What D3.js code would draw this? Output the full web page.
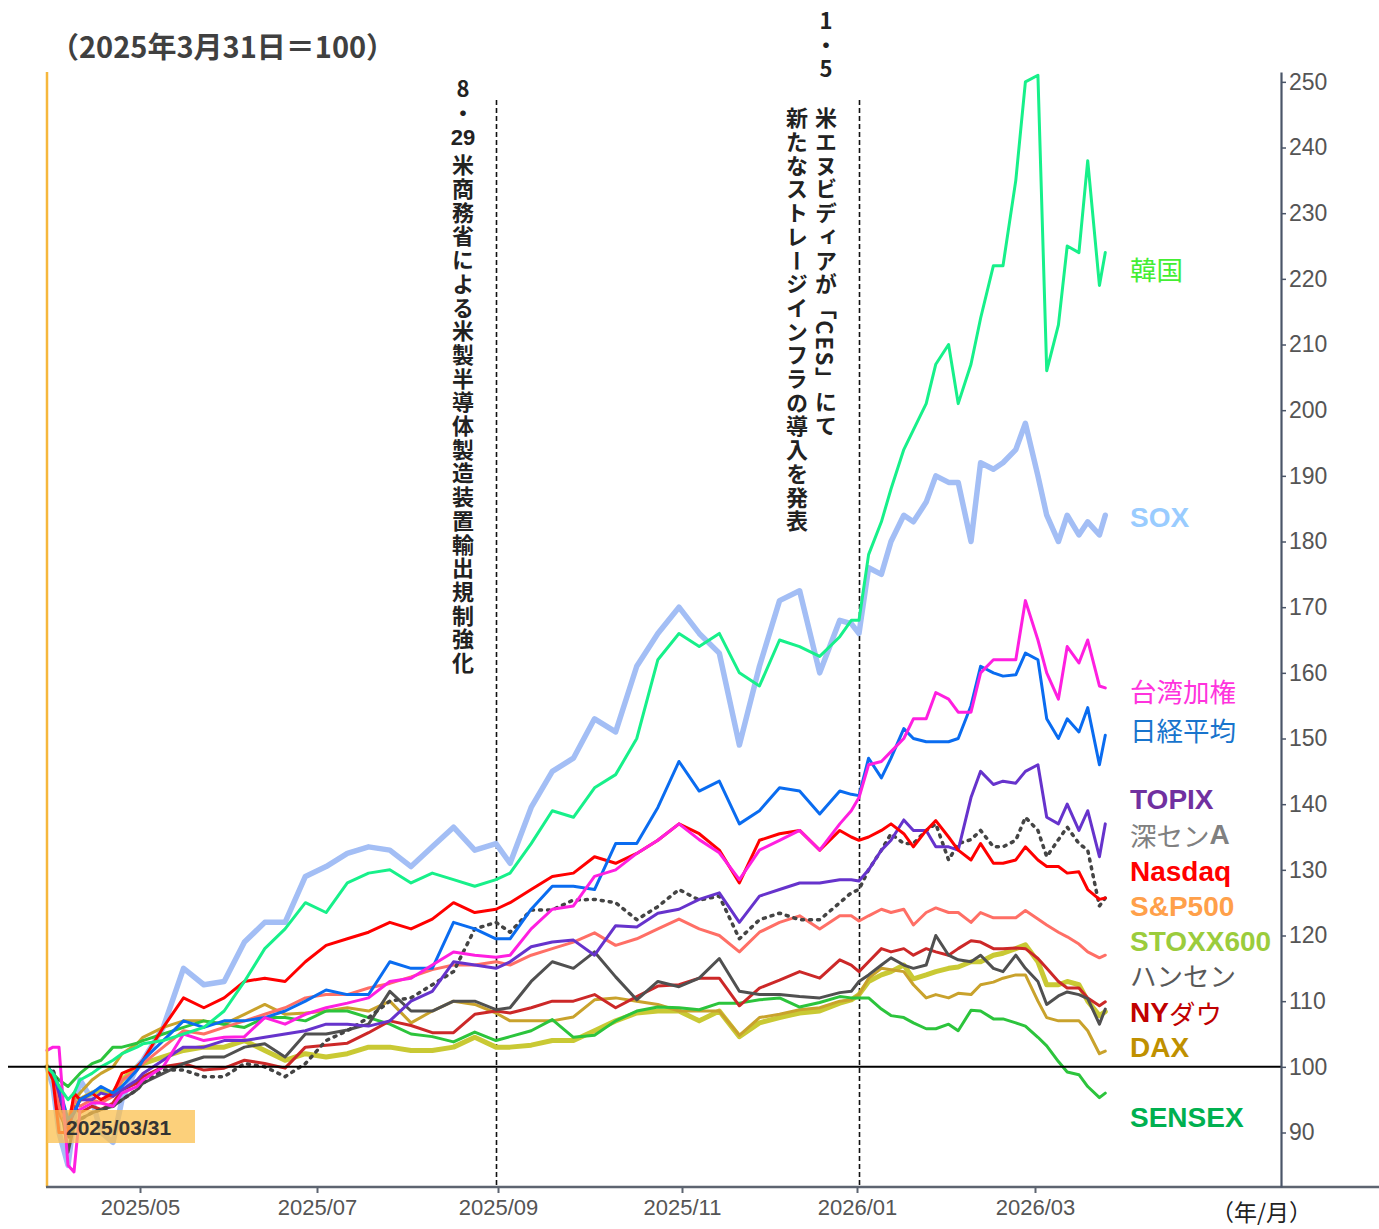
<!DOCTYPE html>
<html><head><meta charset="utf-8">
<script src="https://cdn.jsdelivr.net/npm/d3@7"></script>
<style>body{margin:0;background:#fff}svg{display:block}</style>
</head><body>
<svg id="chart" width="1379" height="1229"></svg>
<script>
// ---------------- DATA ----------------
const dates = ["2025-03-31","2025-04-02","2025-04-04","2025-04-07","2025-04-09","2025-04-11","2025-04-15","2025-04-18","2025-04-22","2025-04-25","2025-04-30",
"2025-05-02","2025-05-09","2025-05-16","2025-05-23","2025-05-30","2025-06-06","2025-06-13","2025-06-20","2025-06-27",
"2025-07-04","2025-07-11","2025-07-18","2025-07-25","2025-08-01","2025-08-08","2025-08-15","2025-08-22","2025-08-29",
"2025-09-05","2025-09-12","2025-09-19","2025-09-26","2025-10-03","2025-10-10","2025-10-17","2025-10-24","2025-10-31",
"2025-11-07","2025-11-14","2025-11-21","2025-11-28","2025-12-05","2025-12-12","2025-12-19","2025-12-26","2025-12-30",
"2026-01-05","2026-01-08","2026-01-12","2026-01-15","2026-01-19","2026-01-22","2026-01-26","2026-01-29",
"2026-02-02","2026-02-05","2026-02-09","2026-02-12","2026-02-16","2026-02-19","2026-02-23","2026-02-26",
"2026-03-02","2026-03-05","2026-03-09","2026-03-12","2026-03-16","2026-03-19","2026-03-23","2026-03-25"];

const korea = [100,99,97,95,96,98,99,100,101,102,103, 103.5,104,105,106,108.5,113,118,121,125, 123.5,128,129.5,130,128,129.5,128.5,127.5,128.5, 129.5,134,139,138,142.5,144.5,150,162,166, 164,166,160,158,165,164,162.5,165.5,168, 168,178,183,188,194,197,201,207, 210,201,207,214,222,222,235,250, 251,206,213,225,224,238,219,224];
const sox = [100,97,90,85,92,98,95,90,88.5,95,100, 101,106,115,112.5,113,119,122,122,129, 130.5,132.5,133.5,133,130.5,133.5,136.5,133,134, 131,139.5,145,147,153,151,161,166,170, 166,163,149,161,171,172.5,160,168,167.5, 166,176,175,180,184,183,186,190, 189,189,180,192,191,192,194,198, 190,184,180,184,181,183,181,184];
const taiwan = [102.5,103,103,85,84,93.5,94.5,94.5,94,96,97, 98,100,105,104,104.5,104.6,107.5,106.5,108, 109,109.7,110.5,113,113.5,115.5,117.5,117,116.7, 117,121,124,124.5,129,130,132.5,134.5,137, 134.6,132.6,128.5,133,134.5,136,133,137,139, 141,146,146.5,148,150,153,153,157, 156,154,154,160,162,162,162,171, 165,160,156,164,161.5,165,158,157.7];
const nikkei = [100,99,97,92,93,95,96,97,96,97,99.5, 101,104,107,106,107,107,107.5,108.5,110, 111.7,111,111,116,115,115,122,121,119.5, 119.5,124,127.5,127.5,127,134,134,139.5,146.5, 142,143.5,137,139,142.5,142,138.5,142,141.5, 141.3,147,144,147,151.5,150,149.5,149.5, 149.5,150,155,161,160,159.5,159.7,163, 162,153,150,153,151,154.7,146,150.5];
const topix = [100,99,96,91,93,95,95,96,95.5,96.5,98, 99,101,103,103,104,104,104.5,105,105.5, 106.5,106.5,106.2,107,110,111.5,116,115.5,115, 116,118.3,119,119.3,117,121.5,121.3,123.4,124, 125.5,126.5,122,126,127,128,128,128.5,128.5, 128.3,130,133,134.5,137.6,136,136,133.5, 133.5,133,141,145,143,143.5,143.2,145, 146,138,137,140,136,139,132,137];
const shenzhen = [100,99.5,97,89,91,92,93,93.5,94,95,96.5, 97.5,99.5,99.5,98.5,98.5,100.5,100,98.5,100.5, 104,105.5,107.5,110,110.5,112.5,114.5,121,122, 120.5,123.9,123.9,125.4,125.5,125,122.4,124.4,127, 125.4,126,119.5,122.4,123.4,122.4,122.4,125,126.5, 127,130,133,135.5,134,134,136,137, 131.5,134,134.6,136,133.5,133.5,134.5,138, 136,132,134.6,136.5,134,133,124.5,125.7];
const nasdaq = [100,98,90,90,96,95,96,95,96,99,100, 101,106,110.5,109,110.5,113,113.5,113,116, 118.5,119.5,120.5,122,121,122.5,125,123.5,124, 125,127,129,129.5,132,131,132.5,134.5,137, 135.5,133,128,134.5,135.5,136,133,136,135, 134.5,135,136,137,135.5,133.5,136,137.5, 135,133,131.5,134,131,131,131.5,133.5, 131.5,130.5,130.5,129.5,129.7,127,125.5,125.7];
const sp500 = [100,98.5,94,90,95,94,95,94.5,95.5,98,99.5, 100.5,103,105.5,105,106,107,108,109,110.5, 111,111,112,112.7,113.7,114.8,115.5,115.5,116, 115.5,117,118,119,120.4,118.5,119.5,121,122.5, 121,120,117.5,120.5,122,123,121,123,123, 122.2,123,124,123.5,124,121.6,123.5,124.2, 123.5,123.5,122,123.5,122.7,122.7,122.7,123.8, 122.5,121.6,120.5,119.8,118.7,117.5,116.6,117];
const stoxx600 = [100,98.5,94,91,94,95,96,96.5,96,98,100, 100.5,101.5,102.5,103,103,104,102.5,101,102, 101.5,102,103,103,102.5,102.5,103,104.5,103, 103,103.3,104,104,105.5,107,108.2,108.5,108.5, 107,108.5,104.6,106.7,107.5,108.2,108.5,109.7,110.2, 111,113,114,114.5,115.5,113.4,114,114.5, 115,115.2,116,116,117,117.3,118,118.6, 116,112.5,112.5,113,112.5,110,107.8,108.4];
const hangseng = [100,99,96,87,91,92,93,93.5,94,95,96.5, 97.5,99,100.5,101.5,101.5,103,103.5,101.5,105, 105,105.6,106.5,111.5,108.5,108.5,110,110,108.7, 109,113,116,115,117.5,113.7,110.2,113,112.2, 113.5,116.5,111.5,111,111,110.7,110.5,111.3,111.5, 113,114,115.5,116.6,115.5,115,115.5,120, 117,116.3,116,117,115,114.5,117,115, 113,109.5,110.8,111.4,111,110.4,106.5,108.8];
const nydow = [100,98.5,93,90,94,93,94,93.5,94.5,96.5,97.5, 98.5,100,100.5,99.5,99.8,101,100.5,99.8,103, 103.3,103.6,105.2,107,106.3,105.2,105.2,108,108.5, 108.2,109,110,110,111,109,110.7,112.3,112.5, 113.5,113.5,109.3,112,113.2,114.5,113.5,116.3,115.5, 114.5,116,118,117.5,118,117,118,117.5, 117,118,119.2,119,118,118,118.1,118, 116.5,115,113,112,112,110.5,109.3,109.9];
const dax = [100,98,94,92,95,96,98,99,100,102,103.5, 104.5,106,107,107,106.5,108,109.5,108,108.2, 108.5,109,108.5,110,106.7,108.5,110,109.5,108.2, 107,107,107,107.6,110.2,110.5,110,109.5,108.5, 108.5,108.5,104.8,107.5,108,108.7,109,110,110.2, 111,113.5,115,114.8,114.5,112.5,110.5,111, 110.5,111.2,111,112.5,112.9,113.5,114,114, 110,107.5,107,107,107,105.5,102,102.4];
const sensex = [100,99,98,97,98,99,100.5,101,103,103,103.6, 104,105,106,107,106.5,106,107.5,107.5,107, 108.5,108.5,107.5,106.5,105,104.6,103.8,105.3,104, 104.6,105.5,107.2,104.5,104.8,107,108.5,109.1,109, 108.7,109.7,109.7,110.2,110.5,109.1,109.8,110.7,110.5, 110.5,110.5,108.8,107.8,107.5,106.7,105.8,105.8, 106.5,105.5,108.6,108.5,107.3,107.3,106.7,106.2, 104.5,103.2,100.8,99.2,98.8,97,95.3,96];

const seriesNames = ["韓国","SOX","台湾加権","日経平均","TOPIX","深センA","Nasdaq","S&P500","STOXX600","ハンセン","NYダウ","DAX","SENSEX"];
const seriesValues = [korea, sox, taiwan, nikkei, topix, shenzhen, nasdaq, sp500, stoxx600, hangseng, nydow, dax, sensex];
const yTicks = [90,100,110,120,130,140,150,160,170,180,190,200,210,220,230,240,250];
const xTicks = ["2025-05-01","2025-07-01","2025-09-01","2025-11-01","2026-01-01","2026-03-01"];
const baseValue = 100;
const titleText = "（2025年3月31日＝100）";
const baseDateLabel = "2025/03/31";
const xUnitLabel = "（年/月）";
const eventDates = ["2025-08-29","2026-01-05"];
// date label: part written vertically (upright) + optional horizontal (tate-chu-yoko) part
const eventDateLabels = [["8・","29"],["1・5",""]];
const eventTexts = [["米商務省による米製半導体製造装置輸出規制強化"],["米エヌビディアが「CES」にて","新たなストレージインフラの導入を発表"]];

// ---------------- STYLE / LAYOUT ----------------
const lineColor = {"韓国":"#17f08a","SOX":"#a3bef5","台湾加権":"#ff1fe0","日経平均":"#0a6cf0","TOPIX":"#6633cc","深センA":"#444444","Nasdaq":"#ff0000","S&P500":"#ff6f66","STOXX600":"#c9c934","ハンセン":"#505050","NYダウ":"#cc2828","DAX":"#c9a22c","SENSEX":"#2cc43c"};
const lineWidth = {"SOX":5.5,"STOXX600":5};
const labelColor = {"韓国":"#44ee33","SOX":"#99ccff","台湾加権":"#ff33dd","日経平均":"#1874cd","TOPIX":"#7030a0","深センA":"#808080","Nasdaq":"#ff0000","S&P500":"#ffa04a","STOXX600":"#9bcc3c","ハンセン":"#595959","NYダウ":"#c00000","DAX":"#bf9000","SENSEX":"#00b050"};
// label vertical positions in index units (placed by hand in the original)
const labelAt = {"韓国":221.7,"SOX":183.8,"台湾加権":157.41,"日経平均":151.47,"TOPIX":140.8,"深センA":135.5,"Nasdaq":129.8,"S&P500":124.5,"STOXX600":119.2,"ハンセン":114.16,"NYダウ":108.38,"DAX":103,"SENSEX":92.4};
const drawOrder = ["SOX","STOXX600","DAX","SENSEX","NYダウ","ハンセン","S&P500","深センA","TOPIX","Nasdaq","日経平均","台湾加権","韓国"];

const parse = d3.timeParse("%Y-%m-%d");
const svg = d3.select("#chart");
const CJK = "'Noto Sans CJK JP','Noto Sans',sans-serif";
const LAT = "'Liberation Sans',Arial,sans-serif";

// polylinear time scale emulating the original's trading-day axis
const x = d3.scaleTime()
  .domain(["2025-03-31","2025-05-01","2025-07-01","2025-08-29","2025-09-01","2025-11-01","2026-01-01","2026-01-05","2026-03-01","2026-05-24"].map(parse))
  .range([47,140,317,496,498,682,857,859,1035,1281]);
const y = d3.scaleLinear().domain([81.7, 251.5]).range([1187, 72]);
const xs = dates.map(parse);

// title
svg.append("text").attr("x", 50).attr("y", 45).attr("dominant-baseline","central")
  .style("font-family", CJK).style("font-weight", 700).style("font-size","29px").attr("fill","#404040")
  .text(titleText);

// event dashed lines
eventDates.forEach((d,i)=>{
  const ex = Math.round(x(parse(d)))+0.5;
  svg.append("line").attr("x1",ex).attr("x2",ex).attr("y1",100).attr("y2",1187)
    .attr("stroke","#111").attr("stroke-width",1.6).attr("stroke-dasharray","5,3");
});

// lines
const line = d3.line().x((d,i)=>x(xs[i])).y(d=>y(d)).curve(d3.curveLinear);
const gLines = svg.append("g");
drawOrder.forEach(name=>{
  const vals = seriesValues[seriesNames.indexOf(name)];
  const p = gLines.append("path").datum(vals).attr("d", line)
    .attr("fill","none").attr("stroke", lineColor[name])
    .attr("stroke-width", lineWidth[name] || 3)
    .attr("stroke-linejoin","round").attr("stroke-linecap","round");
  if (name === "深センA") p.attr("stroke-dasharray","2,6").attr("stroke-width",3.5);
});

// base (=100) line
svg.append("line").attr("x1",8).attr("x2",1281).attr("y1",y(baseValue)).attr("y2",y(baseValue))
  .attr("stroke","#000").attr("stroke-width",2);

// orange start line
svg.append("line").attr("x1",x(xs[0])).attr("x2",x(xs[0])).attr("y1",72).attr("y2",1187)
  .attr("stroke","#f6b73c").attr("stroke-width",2.5);

// base date label box
svg.append("rect").attr("x",x(xs[0])).attr("y",1110).attr("width",148).attr("height",33)
  .attr("fill","#fbc04f").attr("opacity",0.75);
svg.append("text").attr("x",66).attr("y",1127).attr("dominant-baseline","central")
  .style("font-family",LAT).style("font-weight",700).style("font-size","21px").attr("fill","#333")
  .text(baseDateLabel);

// x axis
svg.append("line").attr("x1",46).attr("x2",1379).attr("y1",1187).attr("y2",1187)
  .attr("stroke","#5d6470").attr("stroke-width",2.5);
const xAxis = d3.axisBottom(x).tickValues(xTicks.map(parse)).tickFormat(d3.timeFormat("%Y/%m")).tickSize(6).tickPadding(6);
const gx = svg.append("g").attr("transform","translate(0,1187)").call(xAxis);
gx.select(".domain").remove();
gx.selectAll(".tick line").attr("stroke","#5d6470").attr("stroke-width",2);
gx.selectAll(".tick text").style("font-family",LAT).style("font-size","22px").attr("fill","#555");
svg.append("text").attr("x",1211).attr("y",1211).attr("dominant-baseline","central")
  .style("font-family",CJK).style("font-size","23px").attr("fill","#222").text(xUnitLabel);

// y axis (right)
const yAxis = d3.axisRight(y).tickValues(yTicks).tickSize(5).tickSizeOuter(0).tickPadding(3);
const gy = svg.append("g").attr("transform","translate(1281,0)").call(yAxis);
gy.select(".domain").attr("stroke","#4a5568").attr("stroke-width",2.2);
gy.selectAll(".tick line").attr("stroke","#4a5568").attr("stroke-width",1.5);
gy.selectAll(".tick text").style("font-family",LAT).style("font-size","23px").attr("fill","#555");

// event annotations (vertical Japanese text)
const evAnno = [
  {dateX:463, dateTop:78, horizY:137, cols:[463], textTop:154},
  {dateX:826, dateTop:10, horizY:0, cols:[826,797], textTop:107}
];
eventDates.forEach((d,i)=>{
  const a = evAnno[i];
  const [vPart, hPart] = eventDateLabels[i];
  svg.append("text").attr("x",a.dateX).attr("y",a.dateTop)
    .style("writing-mode","vertical-rl").style("text-orientation","upright")
    .style("font-family",CJK).style("font-weight",700).style("font-size","22px")
    .style("letter-spacing","1.7px").attr("fill","#222").text(vPart);
  if (hPart) {
    svg.append("text").attr("x",a.dateX).attr("y",a.horizY)
      .attr("text-anchor","middle").attr("dominant-baseline","central")
      .style("font-family",LAT).style("font-weight",700).style("font-size","22px").attr("fill","#222").text(hPart);
  }
  eventTexts[i].forEach((t,k)=>{
    svg.append("text").attr("x",a.cols[k]).attr("y",a.textTop)
      .style("writing-mode","vertical-rl").style("text-orientation","mixed")
      .style("font-family",CJK).style("font-weight",700).style("font-size","22px")
      .style("letter-spacing","1.7px").attr("fill","#222").text(t);
  });
});

// right-side labels
const gl = svg.append("g");
seriesNames.forEach(name=>{
  const t = gl.append("text").attr("x",1130).attr("y",y(labelAt[name])).attr("dominant-baseline","central")
    .style("font-size","28px").attr("fill",labelColor[name]);
  (name.match(/[\x00-\x7F]+|[^\x00-\x7F]+/g)||[]).forEach(run=>{
    const latin = /^[\x00-\x7F]+$/.test(run);
    t.append("tspan").text(run)
      .style("font-family", latin ? LAT : CJK)
      .style("font-size", latin ? "28px" : "26.5px")
      .style("font-weight", latin ? 700 : 400);
  });
});
</script>
</body></html>
